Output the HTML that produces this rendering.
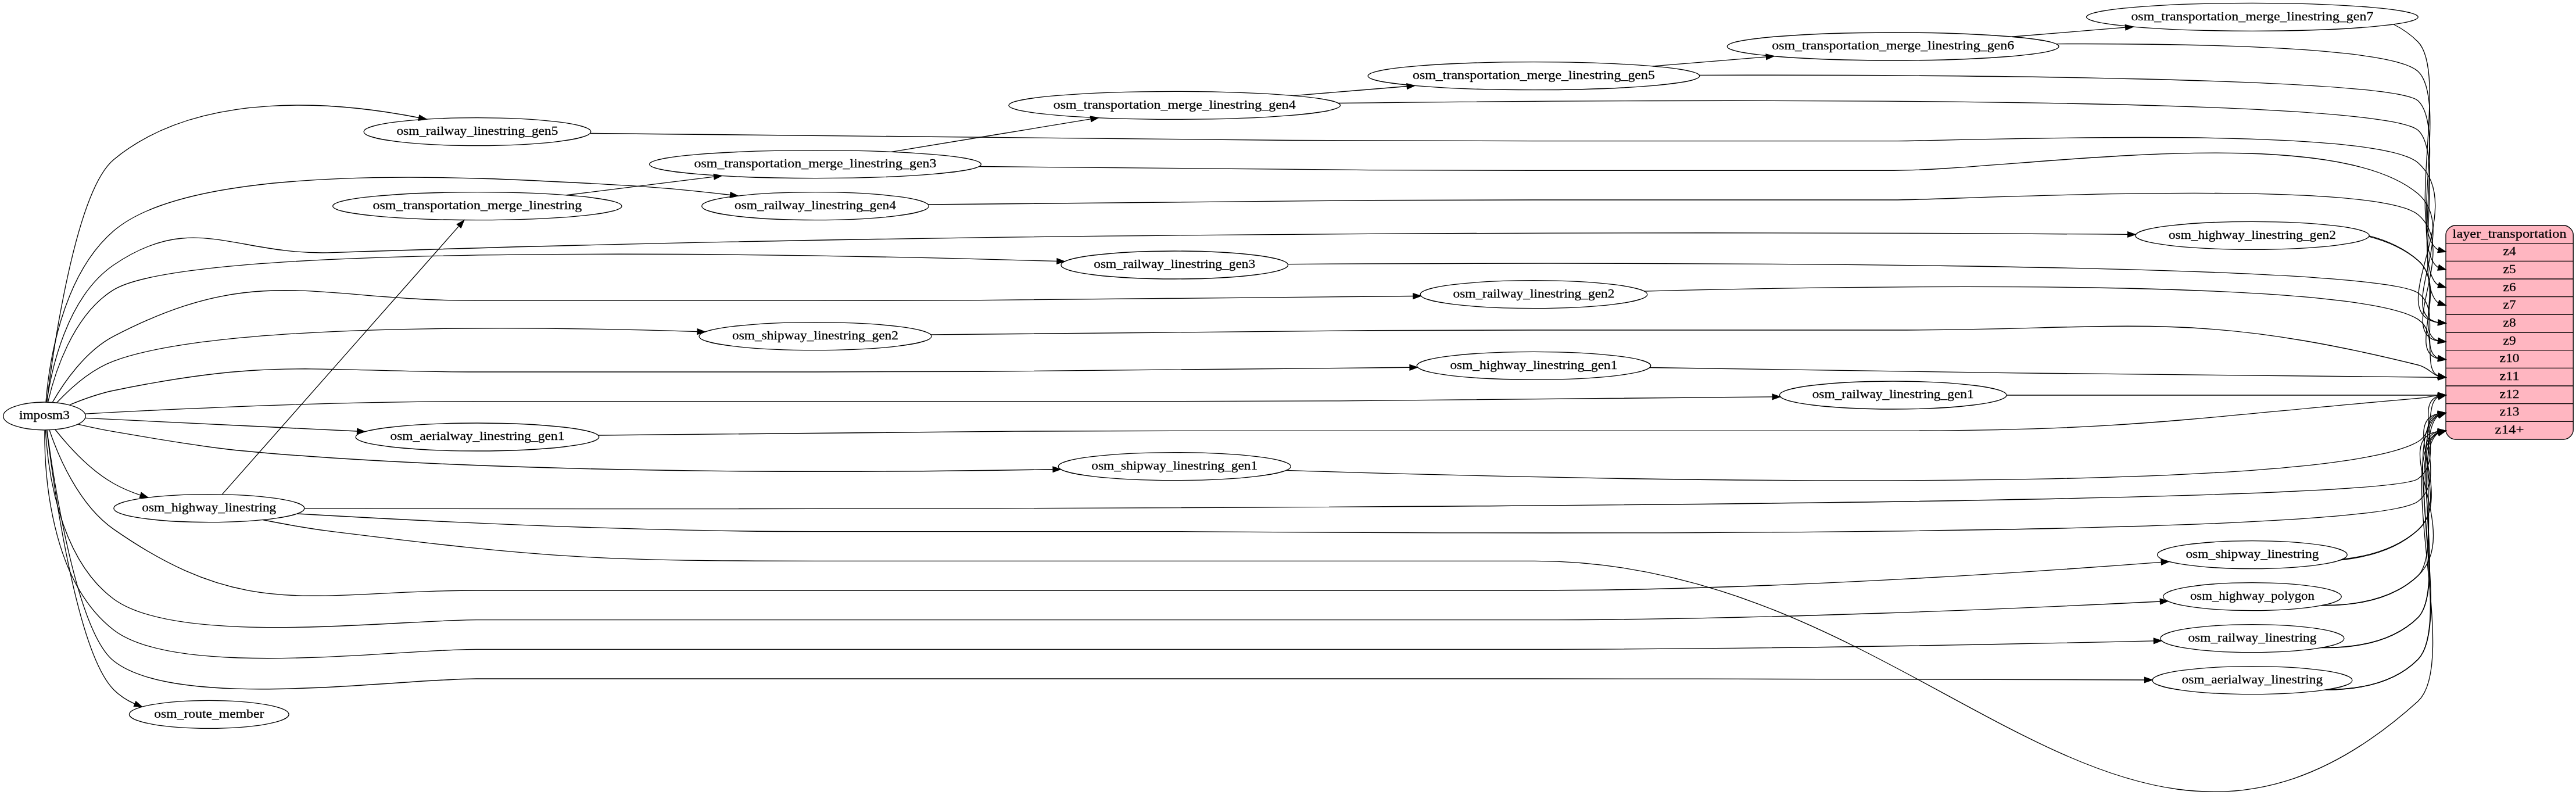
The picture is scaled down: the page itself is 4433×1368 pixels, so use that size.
<!DOCTYPE html>
<html>
<head>
<meta charset="utf-8">
<title>layer_transportation ETL diagram</title>
<style>
html,body{margin:0;padding:0;background:#fff;}
body{width:4433px;height:1368px;overflow:hidden;}
svg{display:block;position:absolute;left:0;top:0;}
svg{will-change:transform;}
svg text{font-family:"Liberation Serif",serif;font-size:16.0px;text-anchor:middle;fill:#000;stroke:#000;stroke-width:0.2px;}
</style>
</head>
<body>
<svg width="4433" height="1368" viewBox="0 0 4433 1368">
<g transform="scale(1.333333)">
<g transform="translate(4 1021.92)">
<polygon fill="white" stroke="none" points="-4.00,4 -4.00,-1021.92 3321.20,-1021.92 3321.20,4 -4.00,4"/>
<g>
<ellipse fill="none" stroke="black" cx="53.30" cy="-484.92" rx="53.09" ry="18"/>
<text x="53.30" y="-480.82" textLength="65.25" lengthAdjust="spacingAndGlyphs">imposm3</text>
</g>
<g>
<ellipse fill="none" stroke="black" cx="612.05" cy="-851.92" rx="146.5" ry="18"/>
<text x="612.05" y="-847.82" textLength="208.50" lengthAdjust="spacingAndGlyphs">osm_railway_linestring_gen5</text>
</g>
<g>
<path fill="none" stroke="black" d="M56.42,-503.19C64.17,-566.49 93.13,-774.77 142.70,-815.92 253.71,-908.08 435.27,-889.95 536.65,-870.03"/>
<polygon fill="black" stroke="black" points="537.38,-873.45 546.50,-868.04 535.99,-866.59 537.38,-873.45"/>
</g>
<g>
<ellipse fill="none" stroke="black" cx="1048.25" cy="-755.92" rx="146.5" ry="18"/>
<text x="1048.25" y="-751.82" textLength="208.50" lengthAdjust="spacingAndGlyphs">osm_railway_linestring_gen4</text>
</g>
<g>
<path fill="none" stroke="black" d="M55.29,-503.21C58.77,-548.22 74.28,-664.99 142.70,-723.92 253.51,-819.36 652.59,-790.81 798.42,-782.92 844.41,-780.43 894.98,-775.38 938.44,-770.31"/>
<polygon fill="black" stroke="black" points="938.95,-773.77 948.46,-769.12 938.13,-766.82 938.95,-773.77"/>
</g>
<g>
<ellipse fill="none" stroke="black" cx="1511.92" cy="-679.92" rx="146.5" ry="18"/>
<text x="1511.92" y="-675.82" textLength="208.50" lengthAdjust="spacingAndGlyphs">osm_railway_linestring_gen3</text>
</g>
<g>
<path fill="none" stroke="black" d="M57.90,-502.97C65.98,-538.14 89.23,-615.26 142.70,-647.92 244.37,-710.03 1025.86,-694.5 1359.96,-684.83"/>
<polygon fill="black" stroke="black" points="1360.31,-688.32 1370.20,-684.53 1360.11,-681.33 1360.31,-688.32"/>
</g>
<g>
<ellipse fill="none" stroke="black" cx="1975.59" cy="-641.92" rx="146.5" ry="18"/>
<text x="1975.59" y="-637.82" textLength="208.50" lengthAdjust="spacingAndGlyphs">osm_railway_linestring_gen2</text>
</g>
<g>
<path fill="none" stroke="black" d="M63.78,-502.79C77.59,-526.8 105.67,-568.67 142.70,-587.92 328.16,-684.35 401.84,-633.92 611.05,-633.92 611.05,-633.92 611.05,-633.92 1049.25,-633.92 1320.39,-633.92 1636.20,-637.4 1819.94,-639.77"/>
<polygon fill="black" stroke="black" points="1819.91,-643.27 1829.94,-639.9 1820.00,-636.27 1819.91,-643.27"/>
</g>
<g>
<ellipse fill="none" stroke="black" cx="2439.26" cy="-511.92" rx="146.5" ry="18"/>
<text x="2439.26" y="-507.82" textLength="208.50" lengthAdjust="spacingAndGlyphs">osm_railway_linestring_gen1</text>
</g>
<g>
<path fill="none" stroke="black" d="M106.06,-487.87C204.38,-493.21 425.06,-503.92 611.05,-503.92 611.05,-503.92 611.05,-503.92 1512.92,-503.92 1784.06,-503.92 2099.87,-507.4 2283.61,-509.77"/>
<polygon fill="black" stroke="black" points="2283.58,-513.27 2293.61,-509.9 2283.67,-506.27 2283.58,-513.27"/>
</g>
<g>
<ellipse fill="none" stroke="black" cx="612.05" cy="-457.92" rx="157" ry="18"/>
<text x="612.05" y="-453.82" textLength="225.00" lengthAdjust="spacingAndGlyphs">osm_aerialway_linestring_gen1</text>
</g>
<g>
<path fill="none" stroke="black" d="M106.14,-482.41C185.32,-478.56 339.57,-471.08 456.86,-465.4"/>
<polygon fill="black" stroke="black" points="457.18,-468.89 467.02,-464.9 456.84,-461.89 457.18,-468.89"/>
</g>
<g>
<ellipse fill="none" stroke="black" cx="1048.25" cy="-587.92" rx="150" ry="18"/>
<text x="1048.25" y="-583.82" textLength="214.50" lengthAdjust="spacingAndGlyphs">osm_shipway_linestring_gen2</text>
</g>
<g>
<path fill="none" stroke="black" d="M69.21,-502.11C85.34,-519.33 112.80,-544.81 142.70,-555.92 276.41,-605.62 675.48,-600.94 896.02,-594"/>
<polygon fill="black" stroke="black" points="896.19,-597.5 906.07,-593.68 895.97,-590.5 896.19,-597.5"/>
</g>
<g>
<ellipse fill="none" stroke="black" cx="1511.92" cy="-419.92" rx="150" ry="18"/>
<text x="1511.92" y="-415.82" textLength="214.50" lengthAdjust="spacingAndGlyphs">osm_shipway_linestring_gen1</text>
</g>
<g>
<path fill="none" stroke="black" d="M96.83,-474.37C111.32,-471.02 127.66,-467.52 142.70,-464.92 267.24,-443.39 298.95,-439.13 425.17,-430.92 755.89,-409.39 1143.79,-412.23 1354.81,-416.13"/>
<polygon fill="black" stroke="black" points="1354.98,-419.63 1365.03,-416.32 1355.11,-412.63 1354.98,-419.63"/>
</g>
<g>
<ellipse fill="none" stroke="black" cx="2902.93" cy="-717.92" rx="151" ry="18"/>
<text x="2902.93" y="-713.82" textLength="216.00" lengthAdjust="spacingAndGlyphs">osm_highway_linestring_gen2</text>
</g>
<g>
<path fill="none" stroke="black" d="M56.36,-503.1C61.99,-542.99 81.48,-637.99 142.70,-679.92 246.36,-750.92 299.46,-691.57 425.17,-695.92 1299.77,-726.23 2348.37,-722.26 2742.15,-719.35"/>
<polygon fill="black" stroke="black" points="2742.22,-722.85 2752.19,-719.28 2742.17,-715.85 2742.22,-722.85"/>
</g>
<g>
<ellipse fill="none" stroke="black" cx="1975.59" cy="-549.92" rx="151" ry="18"/>
<text x="1975.59" y="-545.82" textLength="216.00" lengthAdjust="spacingAndGlyphs">osm_highway_linestring_gen1</text>
</g>
<g>
<path fill="none" stroke="black" d="M85.93,-499.42C102.48,-506.31 123.29,-513.9 142.70,-517.92 346.73,-560.17 402.58,-541.92 611.05,-541.92 611.05,-541.92 611.05,-541.92 1049.25,-541.92 1318.22,-541.92 1631.15,-545.34 1815.50,-547.71"/>
<polygon fill="black" stroke="black" points="1815.51,-551.21 1825.55,-547.84 1815.60,-544.21 1815.51,-551.21"/>
</g>
<g>
<ellipse fill="none" stroke="black" cx="265.85" cy="-365.92" rx="123" ry="18"/>
<text x="265.85" y="-361.82" textLength="173.25" lengthAdjust="spacingAndGlyphs">osm_highway_linestring</text>
</g>
<g>
<path fill="none" stroke="black" d="M67.30,-467.49C83.00,-447.68 111.24,-415.8 142.70,-397.92 153.37,-391.86 165.23,-386.91 177.23,-382.89"/>
<polygon fill="black" stroke="black" points="178.37,-386.2 186.87,-379.86 176.27,-379.52 178.37,-386.2"/>
</g>
<g>
<ellipse fill="none" stroke="black" cx="2902.93" cy="-197.92" rx="118.5" ry="18"/>
<text x="2902.93" y="-193.82" textLength="165.75" lengthAdjust="spacingAndGlyphs">osm_railway_linestring</text>
</g>
<g>
<path fill="none" stroke="black" d="M53.71,-466.56C53.21,-415.79 59.56,-273.01 142.70,-208.92 225.16,-145.36 506.80,-183.92 611.05,-183.92 611.05,-183.92 611.05,-183.92 1976.59,-183.92 2262.26,-183.92 2597.47,-190.68 2775.61,-194.8"/>
<polygon fill="black" stroke="black" points="2775.74,-198.3 2785.80,-195.04 2775.90,-191.31 2775.74,-198.3"/>
</g>
<g>
<ellipse fill="none" stroke="black" cx="2902.93" cy="-143.92" rx="129" ry="18"/>
<text x="2902.93" y="-139.82" textLength="182.25" lengthAdjust="spacingAndGlyphs">osm_aerialway_linestring</text>
</g>
<g>
<path fill="none" stroke="black" d="M56.62,-466.57C64.86,-404.96 94.67,-207.22 142.70,-168.92 224.09,-104.03 506.83,-145.92 611.05,-145.92 611.05,-145.92 611.05,-145.92 1976.59,-145.92 2256.06,-145.92 2583.01,-145 2763.85,-144.41"/>
<polygon fill="black" stroke="black" points="2763.97,-147.91 2773.95,-144.37 2763.95,-140.91 2763.97,-147.91"/>
</g>
<g>
<ellipse fill="none" stroke="black" cx="2902.93" cy="-305.92" rx="122.5" ry="18"/>
<text x="2902.93" y="-301.82" textLength="171.75" lengthAdjust="spacingAndGlyphs">osm_shipway_linestring</text>
</g>
<g>
<path fill="none" stroke="black" d="M59.85,-466.74C70.46,-435.28 96.74,-370.98 142.70,-338.92 315.70,-218.25 399.90,-259.92 611.05,-259.92 611.05,-259.92 611.05,-259.92 1976.59,-259.92 2267.90,-259.92 2610.16,-282.94 2785.48,-296.42"/>
<polygon fill="black" stroke="black" points="2785.27,-299.91 2795.51,-297.19 2785.80,-292.93 2785.27,-299.91"/>
</g>
<g>
<ellipse fill="none" stroke="black" cx="2902.93" cy="-251.92" rx="115" ry="18"/>
<text x="2902.93" y="-247.82" textLength="160.50" lengthAdjust="spacingAndGlyphs">osm_highway_polygon</text>
</g>
<g>
<path fill="none" stroke="black" d="M54.82,-466.89C57.21,-421.46 70.43,-302.13 142.70,-248.92 226.56,-187.17 506.78,-221.92 611.05,-221.92 611.05,-221.92 611.05,-221.92 1976.59,-221.92 2266.90,-221.92 2608.19,-236.86 2784.00,-245.65"/>
<polygon fill="black" stroke="black" points="2783.89,-249.15 2794.05,-246.16 2784.24,-242.16 2783.89,-249.15"/>
</g>
<g>
<ellipse fill="none" stroke="black" cx="265.85" cy="-99.92" rx="103" ry="18"/>
<text x="265.85" y="-95.82" textLength="141.75" lengthAdjust="spacingAndGlyphs">osm_route_member</text>
</g>
<g>
<path fill="none" stroke="black" d="M56.41,-466.69C64.34,-401.42 94.34,-180.78 142.70,-131.92 150.43,-124.11 159.82,-118.14 169.92,-113.57"/>
<polygon fill="black" stroke="black" points="171.39,-116.75 179.36,-109.77 168.77,-110.26 171.39,-116.75"/>
</g>
<g>
<path fill="lightpink" stroke="black" d="M3164.86,-454.92C3164.86,-454.92 3305.09,-454.92 3305.09,-454.92 3311.15,-454.92 3317.20,-460.92 3317.20,-466.92 3317.20,-466.92 3317.20,-718.92 3317.20,-718.92 3317.20,-724.92 3311.15,-730.92 3305.09,-730.92 3305.09,-730.92 3164.86,-730.92 3164.86,-730.92 3158.80,-730.92 3152.75,-724.92 3152.75,-718.92 3152.75,-718.92 3152.75,-466.92 3152.75,-466.92 3152.75,-460.92 3158.80,-454.92 3164.86,-454.92"/>
<text x="3234.97" y="-715.32" textLength="147.00" lengthAdjust="spacingAndGlyphs">layer_transportation</text>
<polyline fill="none" stroke="black" points="3152.75,-707.92 3317.20,-707.92 "/>
<text x="3234.97" y="-692.32" textLength="16.50" lengthAdjust="spacingAndGlyphs">z4</text>
<polyline fill="none" stroke="black" points="3152.75,-684.92 3317.20,-684.92 "/>
<text x="3234.97" y="-669.32" textLength="16.50" lengthAdjust="spacingAndGlyphs">z5</text>
<polyline fill="none" stroke="black" points="3152.75,-661.92 3317.20,-661.92 "/>
<text x="3234.97" y="-646.32" textLength="16.50" lengthAdjust="spacingAndGlyphs">z6</text>
<polyline fill="none" stroke="black" points="3152.75,-638.92 3317.20,-638.92 "/>
<text x="3234.97" y="-623.32" textLength="16.50" lengthAdjust="spacingAndGlyphs">z7</text>
<polyline fill="none" stroke="black" points="3152.75,-615.92 3317.20,-615.92 "/>
<text x="3234.97" y="-600.32" textLength="16.50" lengthAdjust="spacingAndGlyphs">z8</text>
<polyline fill="none" stroke="black" points="3152.75,-592.92 3317.20,-592.92 "/>
<text x="3234.97" y="-577.32" textLength="16.50" lengthAdjust="spacingAndGlyphs">z9</text>
<polyline fill="none" stroke="black" points="3152.75,-569.92 3317.20,-569.92 "/>
<text x="3234.97" y="-554.32" textLength="25.50" lengthAdjust="spacingAndGlyphs">z10</text>
<polyline fill="none" stroke="black" points="3152.75,-546.92 3317.20,-546.92 "/>
<text x="3234.97" y="-531.32" textLength="25.50" lengthAdjust="spacingAndGlyphs">z11</text>
<polyline fill="none" stroke="black" points="3152.75,-523.92 3317.20,-523.92 "/>
<text x="3234.97" y="-508.32" textLength="25.50" lengthAdjust="spacingAndGlyphs">z12</text>
<polyline fill="none" stroke="black" points="3152.75,-500.92 3317.20,-500.92 "/>
<text x="3234.97" y="-485.32" textLength="25.50" lengthAdjust="spacingAndGlyphs">z13</text>
<polyline fill="none" stroke="black" points="3152.75,-477.92 3317.20,-477.92 "/>
<text x="3234.97" y="-462.32" textLength="37.50" lengthAdjust="spacingAndGlyphs">z14+</text>
</g>
<g>
<path fill="none" stroke="black" d="M757.63,-849.81C1006.32,-846.37 1531.08,-839.92 1974.59,-839.92 1974.59,-839.92 1974.59,-839.92 2440.26,-839.92 2515.50,-839.92 3060.22,-861.56 3116.78,-811.92 3184.36,-752.88 3069.56,-616.71 3142.36,-605.64"/>
<polygon fill="black" stroke="black" points="3143.03,-609.1 3152.75,-604.92 3142.54,-602.12 3143.03,-609.1"/>
</g>
<g>
<path fill="none" stroke="black" d="M1193.90,-757.95C1376.01,-760.32 1698.47,-763.92 1974.59,-763.92 1974.59,-763.92 1974.59,-763.92 2440.26,-763.92 2515.46,-763.92 3058.85,-792.9 3116.78,-744.92 3171.49,-699.76 3087.54,-592.57 3142.67,-581.8"/>
<polygon fill="black" stroke="black" points="3143.10,-585.27 3152.75,-580.92 3142.50,-578.3 3143.10,-585.27"/>
</g>
<g>
<path fill="none" stroke="black" d="M1658.12,-680.99C2041.83,-683.24 3057.55,-685.23 3116.78,-643.92 3147.42,-622.54 3118.34,-569.72 3142.79,-559.61"/>
<polygon fill="black" stroke="black" points="3143.49,-563.04 3152.75,-557.92 3142.32,-556.14 3143.49,-563.04"/>
</g>
<g>
<path fill="none" stroke="black" d="M2118.15,-646.09C2405.07,-653.38 3035.04,-663 3116.78,-609.92 3144.38,-592 3122.04,-546.51 3142.93,-536.77"/>
<polygon fill="black" stroke="black" points="3143.58,-540.21 3152.75,-534.92 3142.29,-533.33 3143.58,-540.21"/>
</g>
<g>
<path fill="none" stroke="black" d="M2585.93,-511.92C2727.46,-511.92 2948.82,-511.92 3142.67,-511.92"/>
<polygon fill="black" stroke="black" points="3142.76,-515.42 3152.75,-511.92 3142.76,-508.42 3142.76,-515.42"/>
</g>
<g>
<path fill="none" stroke="black" d="M767.96,-460.14C946.92,-462.51 1250.21,-465.92 1510.92,-465.92 1510.92,-465.92 1510.92,-465.92 2440.26,-465.92 2741.51,-465.92 2816.65,-481.94 3116.78,-507.92 3128.80,-508.96 3133.97,-510.69 3142.60,-511.49"/>
<polygon fill="black" stroke="black" points="3142.62,-515 3152.75,-511.92 3142.92,-508 3142.62,-515"/>
</g>
<g>
<path fill="none" stroke="black" d="M1197.49,-589.99C1380.22,-592.36 1700.28,-595.92 1974.59,-595.92 1974.59,-595.92 1974.59,-595.92 2440.26,-595.92 2741.59,-595.92 2824.25,-623.27 3116.78,-550.92 3129.78,-547.71 3133.70,-540.04 3142.68,-536.62"/>
<polygon fill="black" stroke="black" points="3143.48,-540.03 3152.75,-534.92 3142.32,-533.13 3143.48,-540.03"/>
</g>
<g>
<path fill="none" stroke="black" d="M1656.01,-414.95C2025.67,-403.19 2992.42,-379.81 3116.78,-451.92 3140.09,-465.44 3126.65,-500.63 3142.94,-509.74"/>
<polygon fill="black" stroke="black" points="3142.24,-513.17 3152.75,-511.92 3143.76,-506.34 3142.24,-513.17"/>
</g>
<g>
<path fill="none" stroke="black" d="M3053.61,-716.5C3076.61,-710.6 3098.69,-701.01 3116.78,-685.92 3151.54,-656.93 3111.25,-592.69 3142.55,-582.34"/>
<polygon fill="black" stroke="black" points="3143.34,-585.76 3152.75,-580.92 3142.37,-578.83 3143.34,-585.76"/>
</g>
<g>
<path fill="none" stroke="black" d="M3053.80,-717.5C3076.92,-711.52 3098.98,-701.63 3116.78,-685.92 3158.17,-649.42 3102.16,-569.51 3142.59,-559.06"/>
<polygon fill="black" stroke="black" points="3143.21,-562.51 3152.75,-557.92 3142.43,-555.55 3143.21,-562.51"/>
</g>
<g>
<path fill="none" stroke="black" d="M2125.19,-547.55C2390.85,-543.4 2938.52,-535.2 3142.71,-534.93"/>
<polygon fill="black" stroke="black" points="3142.76,-538.43 3152.75,-534.92 3142.76,-531.43 3142.76,-538.43"/>
</g>
<g>
<ellipse fill="none" stroke="black" cx="612.05" cy="-755.92" rx="186.5" ry="18"/>
<text x="612.05" y="-751.82" textLength="270.00" lengthAdjust="spacingAndGlyphs">osm_transportation_merge_linestring</text>
</g>
<g>
<path fill="none" stroke="black" d="M282.76,-383.95C338.15,-446.7 522.62,-655.72 587.91,-729.7"/>
<polygon fill="black" stroke="black" points="585.66,-732.44 594.91,-737.64 590.92,-727.82 585.66,-732.44"/>
</g>
<g>
<path fill="none" stroke="black" d="M389.23,-365.63C927.52,-364.6 3060.95,-363.08 3116.78,-403.92 3154.42,-431.45 3110.26,-500.01 3142.75,-510.55"/>
<polygon fill="black" stroke="black" points="3142.38,-514.03 3152.75,-511.92 3143.33,-507.1 3142.38,-514.03"/>
</g>
<g>
<path fill="none" stroke="black" d="M379.40,-358.89C531.24,-350.02 809.58,-335.92 1047.25,-335.92 1047.25,-335.92 1047.25,-335.92 1512.92,-335.92 1602.05,-335.92 3045.54,-321.33 3116.78,-374.92 3156.10,-404.48 3107.93,-477.02 3142.71,-487.62"/>
<polygon fill="black" stroke="black" points="3142.39,-491.11 3152.75,-488.92 3143.29,-484.17 3142.39,-491.11"/>
</g>
<g>
<path fill="none" stroke="black" d="M335.13,-351.03C362.94,-345.48 395.47,-339.63 425.17,-335.92 700.31,-301.58 770.48,-297.92 1047.25,-297.92 1047.25,-297.92 1047.25,-297.92 1976.59,-297.92 2489.67,-297.92 2735.81,227.01 3116.78,-116.92 3172.10,-166.7 3083.85,-438.64 3142.93,-464.02"/>
<polygon fill="black" stroke="black" points="3142.28,-467.46 3152.75,-465.92 3143.61,-460.59 3142.28,-467.46"/>
</g>
<g>
<path fill="none" stroke="black" d="M2992.10,-186.05C3035.25,-185.38 3084.69,-193.11 3116.78,-224.92 3156.22,-263.99 3101.32,-461.84 3143.06,-486.42"/>
<polygon fill="black" stroke="black" points="3142.20,-489.81 3152.75,-488.92 3143.95,-483.03 3142.20,-489.81"/>
</g>
<g>
<path fill="none" stroke="black" d="M2993.00,-186.21C3035.85,-185.73 3084.76,-193.58 3116.78,-224.92 3152.74,-260.12 3106.15,-438.17 3142.91,-463.04"/>
<polygon fill="black" stroke="black" points="3142.18,-466.47 3152.75,-465.92 3144.15,-459.75 3142.18,-466.47"/>
</g>
<g>
<path fill="none" stroke="black" d="M2997.77,-131.7C3039.68,-131.68 3086.37,-140.08 3116.78,-170.92 3164.17,-218.88 3090.28,-461.32 3142.77,-486.76"/>
<polygon fill="black" stroke="black" points="3142.25,-490.23 3152.75,-488.92 3143.73,-483.39 3142.25,-490.23"/>
</g>
<g>
<path fill="none" stroke="black" d="M2998.47,-131.82C3040.14,-131.93 3086.43,-140.41 3116.78,-170.92 3160.77,-215.08 3095.03,-438.45 3142.86,-463.62"/>
<polygon fill="black" stroke="black" points="3142.23,-467.06 3152.75,-465.92 3143.82,-460.24 3142.23,-467.06"/>
</g>
<g>
<path fill="none" stroke="black" d="M3016.26,-299.12C3052.29,-302.63 3089.81,-313.13 3116.78,-337.92 3164.89,-382.04 3092.56,-477.68 3142.77,-488.01"/>
<polygon fill="black" stroke="black" points="3142.48,-491.5 3152.75,-488.92 3143.12,-484.53 3142.48,-491.5"/>
</g>
<g>
<path fill="none" stroke="black" d="M3018.74,-300.06C3053.79,-303.9 3090.09,-314.36 3116.78,-337.92 3158.17,-374.42 3102.16,-454.33 3142.59,-464.79"/>
<polygon fill="black" stroke="black" points="3142.43,-468.29 3152.75,-465.92 3143.21,-461.33 3142.43,-468.29"/>
</g>
<g>
<path fill="none" stroke="black" d="M2991.92,-240.51C3034.88,-240 3084.22,-247.73 3116.78,-278.92 3148.15,-308.98 3112.37,-460.81 3142.89,-485.52"/>
<polygon fill="black" stroke="black" points="3142.17,-488.97 3152.75,-488.92 3144.45,-482.36 3142.17,-488.97"/>
</g>
<g>
<path fill="none" stroke="black" d="M2993.24,-240.78C3035.77,-240.54 3084.31,-248.45 3116.78,-278.92 3175.91,-334.22 3077.73,-454.47 3142.50,-465.16"/>
<polygon fill="black" stroke="black" points="3142.53,-468.67 3152.75,-465.92 3143.05,-461.69 3142.53,-468.67"/>
</g>
<g>
<ellipse fill="none" stroke="black" cx="1048.25" cy="-809.92" rx="214" ry="18"/>
<text x="1048.25" y="-805.82" textLength="312.75" lengthAdjust="spacingAndGlyphs">osm_transportation_merge_linestring_gen3</text>
</g>
<g>
<path fill="none" stroke="black" d="M727.13,-770.11C785.56,-777.38 856.96,-786.26 917.48,-793.78"/>
<polygon fill="black" stroke="black" points="917.14,-797.27 927.48,-795.03 918.00,-790.32 917.14,-797.27"/>
</g>
<g>
<ellipse fill="none" stroke="black" cx="1511.92" cy="-885.92" rx="214" ry="18"/>
<text x="1511.92" y="-881.82" textLength="312.75" lengthAdjust="spacingAndGlyphs">osm_transportation_merge_linestring_gen4</text>
</g>
<g>
<path fill="none" stroke="black" d="M1146.59,-825.95C1221.79,-838.33 1325.78,-855.44 1403.42,-868.22"/>
<polygon fill="black" stroke="black" points="1403.28,-871.75 1413.71,-869.92 1404.42,-864.84 1403.28,-871.75"/>
</g>
<g>
<path fill="none" stroke="black" d="M1259.64,-807.07C1447.20,-804.77 1729.19,-801.92 1974.59,-801.92 1974.59,-801.92 1974.59,-801.92 2440.26,-801.92 2590.74,-801.92 3001.82,-869.1 3116.78,-771.92 3171.98,-725.42 3086.42,-616.73 3142.50,-605.81"/>
<polygon fill="black" stroke="black" points="3143.10,-609.27 3152.75,-604.92 3142.50,-602.3 3143.10,-609.27"/>
</g>
<g>
<ellipse fill="none" stroke="black" cx="1975.59" cy="-923.92" rx="214" ry="18"/>
<text x="1975.59" y="-919.82" textLength="312.75" lengthAdjust="spacingAndGlyphs">osm_transportation_merge_linestring_gen5</text>
</g>
<g>
<path fill="none" stroke="black" d="M1665.37,-898.47C1712.33,-902.34 1764.19,-906.6 1811.82,-910.52"/>
<polygon fill="black" stroke="black" points="1811.67,-914.02 1821.91,-911.35 1812.24,-907.05 1811.67,-914.02"/>
</g>
<g>
<path fill="none" stroke="black" d="M1723.40,-888.82C2146.68,-893.66 3065.15,-898.9 3116.78,-853.92 3152.26,-823.01 3109.32,-655.63 3143.08,-630.96"/>
<polygon fill="black" stroke="black" points="3144.27,-634.26 3152.75,-627.92 3142.17,-627.58 3144.27,-634.26"/>
</g>
<g>
<ellipse fill="none" stroke="black" cx="2439.26" cy="-961.92" rx="214" ry="18"/>
<text x="2439.26" y="-957.82" textLength="312.75" lengthAdjust="spacingAndGlyphs">osm_transportation_merge_linestring_gen6</text>
</g>
<g>
<path fill="none" stroke="black" d="M2129.04,-936.47C2176.00,-940.34 2227.86,-944.6 2275.49,-948.52"/>
<polygon fill="black" stroke="black" points="2275.34,-952.02 2285.58,-949.35 2275.91,-945.05 2275.34,-952.02"/>
</g>
<g>
<path fill="none" stroke="black" d="M2189.32,-924.93C2509.75,-925.45 3082.73,-922.13 3116.78,-891.92 3154.43,-858.53 3106.39,-678.93 3142.94,-653.83"/>
<polygon fill="black" stroke="black" points="3144.17,-657.12 3152.75,-650.92 3142.18,-650.41 3144.17,-657.12"/>
</g>
<g>
<ellipse fill="none" stroke="black" cx="2902.93" cy="-999.92" rx="214" ry="18"/>
<text x="2902.93" y="-995.82" textLength="312.75" lengthAdjust="spacingAndGlyphs">osm_transportation_merge_linestring_gen7</text>
</g>
<g>
<path fill="none" stroke="black" d="M2592.71,-974.47C2639.67,-978.34 2691.53,-982.6 2739.16,-986.52"/>
<polygon fill="black" stroke="black" points="2739.01,-990.02 2749.25,-987.35 2739.58,-983.05 2739.01,-990.02"/>
</g>
<g>
<path fill="none" stroke="black" d="M2649.78,-965.22C2835.56,-966.03 3082.64,-961.06 3116.78,-929.92 3156.42,-893.79 3103.36,-701.99 3142.85,-676.68"/>
<polygon fill="black" stroke="black" points="3144.07,-679.98 3152.75,-673.92 3142.19,-673.23 3144.07,-679.98"/>
</g>
<g>
<path fill="none" stroke="black" d="M3085.43,-990.42C3096.97,-984.63 3107.61,-977.26 3116.78,-967.92 3156.71,-927.31 3100.03,-724.66 3142.81,-699.49"/>
<polygon fill="black" stroke="black" points="3143.95,-702.81 3152.75,-696.92 3142.20,-696.03 3143.95,-702.81"/>
</g>
</g>

</g>
</svg>
</body>
</html>
